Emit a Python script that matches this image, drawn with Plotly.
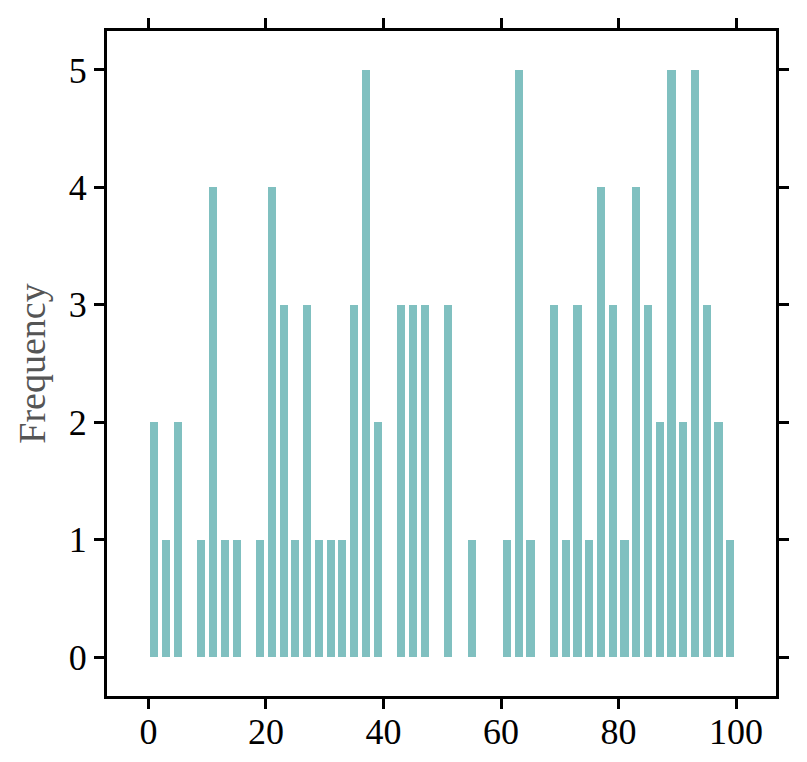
import plotly.graph_objects as go

x_values = [1, 3, 5, 9, 11, 13, 15, 19, 21, 23, 25, 27, 29, 31, 33, 35, 37, 39,
            43, 45, 47, 51, 55, 61, 63, 65, 69, 71, 73, 75, 77, 79, 81, 83, 85,
            87, 89, 91, 93, 95, 97, 99]
frequency = [2, 1, 2, 1, 4, 1, 1, 1, 4, 3, 1, 3, 1, 1, 1, 3, 5, 2,
             3, 3, 3, 3, 1, 1, 5, 1, 3, 1, 3, 1, 4, 3, 1, 4, 3,
             2, 5, 2, 5, 3, 2, 1]
x_ticks = [0, 20, 40, 60, 80, 100]
y_ticks = [0, 1, 2, 3, 4, 5]

fig = go.Figure()
fig.add_trace(go.Bar(
    x=x_values, y=frequency, width=1.4,
    marker=dict(color="#80c0c0", line=dict(width=0)),
))

font_family = "Liberation Serif"
axis_common = dict(
    showline=True, linecolor="black", linewidth=3, mirror="ticks",
    ticks="outside", ticklen=10, tickwidth=3, tickcolor="black",
    showgrid=False, zeroline=False,
    tickfont=dict(family=font_family, size=36, color="black"),
)
fig.update_layout(
    width=799, height=754,
    margin=dict(l=98.5, r=31, t=23, b=66, autoexpand=False),
    plot_bgcolor="white", paper_bgcolor="white",
    showlegend=False,
    bargap=0,
    xaxis=dict(range=[-7.06, 106.8], tickvals=x_ticks, ticklabelstandoff=-8,
               **axis_common),
    yaxis=dict(range=[-0.332, 5.332], tickvals=y_ticks,
               title=dict(text="Frequency", standoff=12,
                          font=dict(family=font_family, size=38, color="#555555")),
               **axis_common),
)
fig.write_html("out.html")
